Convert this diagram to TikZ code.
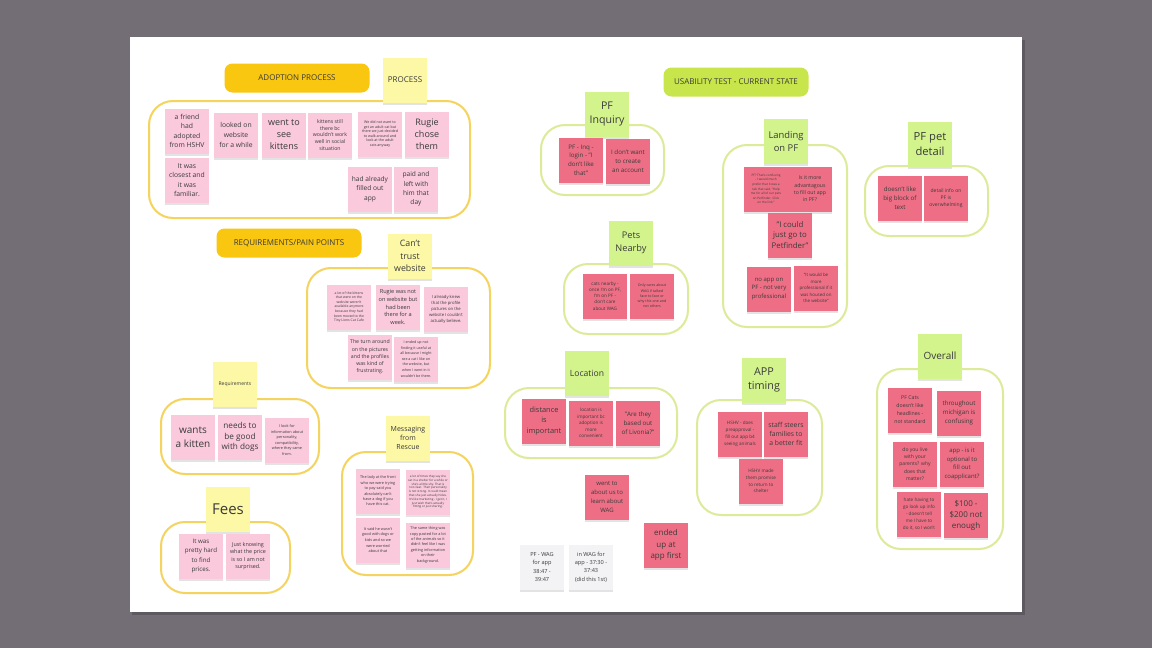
\documentclass[tikz,border=0pt]{standalone}
\usepackage{fontspec}
\setmainfont{Open Sans}
\usepackage{tikz}
\usetikzlibrary{
  positioning,
  shadows,
}
\definecolor{pagebg}{HTML}{736D75}
\definecolor{boardshade}{HTML}{5E5960}
\definecolor{ink}{HTML}{3A3A3A}
\definecolor{pinkpaper}{HTML}{FAC9DC}
\definecolor{redpaper}{HTML}{EE6F85}
\definecolor{yelpaper}{HTML}{FDF8A6}
\definecolor{greenpaper}{HTML}{D3F48D}
\definecolor{whitepaper}{HTML}{F3F3F5}
\definecolor{yelhead}{HTML}{FAC710}
\definecolor{limehead}{HTML}{C8E64B}
\definecolor{yelline}{HTML}{F4D35E}
\definecolor{limeline}{HTML}{DCEB99}
\tikzset{
  fs/.style 2 args={font=\fontsize{#1}{#2}\selectfont},
  sticky/.style={
    minimum width=22pt, minimum height=22.5pt, inner sep=0.4pt,
    align=center, text=ink,
    drop shadow={shadow xshift=0pt, shadow yshift=-1.3pt, opacity=0.22},
  },
  pinknote/.style={sticky, fill=pinkpaper},
  rednote/.style={sticky, fill=redpaper},
  yelnote/.style={sticky, fill=yelpaper},
  greennote/.style={sticky, fill=greenpaper},
  whitenote/.style={sticky, fill=whitepaper},
  header/.style={
    fill=#1, rounded corners=4pt, text=ink,
    minimum width=72.5pt, minimum height=14.5pt, inner sep=0pt,
    font=\fontsize{4pt}{5pt}\selectfont,
  },
  yelframe/.style={draw=yelline, line width=1pt, rounded corners=12pt},
  limeframe/.style={draw=limeline, line width=1pt, rounded corners=12pt},
}

\begin{document}
\begin{tikzpicture}[x=0.5pt,y=-0.5pt]
  \useasboundingbox (0,0) rectangle (1152,648);
  \fill[pagebg] (0,0) rectangle (1152,648);
  \fill[boardshade] (132,40) rectangle (1025,615);
  \fill[white] (130,37) rectangle (1022,612);

  % Adoption process
  \draw[yelframe] (149,101) rectangle (470,218);
  \node[header=yelhead] (adoptionhdr) at (297,78) {ADOPTION PROCESS};
  \node[yelnote, fs={4pt}{5pt}] (process) at (405,80) {PROCESS};
  \node[pinknote, fs={3.4pt}{4.7pt}] (friend) at (187,131) {a friend\\had\\adopted\\from HSHV};
  \node[pinknote, fs={3.4pt}{4.7pt}] (closest) at (187,180) {It was\\closest and\\it was\\familiar.};
  \node[pinknote, fs={3.4pt}{4.8pt}] (looked) at (236,135) {looked on\\website\\for a while};
  \node[pinknote, fs={4.5pt}{6pt}] (seekittens) at (284,135) {went to\\see\\kittens};
  \node[pinknote, fs={2.6pt}{3.4pt}] (social) at (330,135) {kittens still\\there bc\\wouldn't work\\well in social\\situation};
  \node[pinknote, fs={1.8pt}{2.3pt}] (adultcat) at (380,134) {We did not want to\\get an adult cat but\\there we just decided\\to walk around and\\look at the adult\\cats anyway};
  \node[pinknote, fs={4.5pt}{6pt}] (chose) at (427,134) {Rugie\\chose\\them};
  \node[pinknote, fs={3.3pt}{4.7pt}] (filled) at (370,189) {had already\\filled out\\app};
  \node[pinknote, fs={3.3pt}{4.7pt}] (paid) at (416,189) {paid and\\left with\\him that\\day};

  % Requirements / pain points
  \node[header=yelhead] (painhdr) at (289,243) {REQUIREMENTS/PAIN POINTS};
  \draw[yelframe] (307,268) rectangle (490,388);
  \node[yelnote, fs={4.4pt}{6.2pt}] (trust) at (410,256) {Can't\\trust\\website};
  \node[pinknote, fs={1.7pt}{2.3pt}] (catcafe) at (349,307) {a lot of the kittens\\that were on the\\website weren't\\available anymore\\because they had\\been moved to the\\Tiny Lions Cat Cafe};
  \node[pinknote, fs={2.8pt}{3.8pt}] (notonweb) at (398,307) {Rugie was not\\on website but\\had been\\there for a\\week.};
  \node[pinknote, fs={2.1pt}{3pt}] (believe) at (446,309) {I already knew\\that the profile\\pictures on the\\website I couldn't\\actually believe.};
  \node[pinknote, fs={2.6pt}{3.6pt}] (turnaround) at (370,357) {The turn around\\on the pictures\\and the profiles\\was kind of\\frustrating.};
  \node[pinknote, fs={1.8pt}{2.8pt}] (useful) at (416,359) {I ended up not\\finding it useful at\\all because I might\\see a cat I like on\\the website, but\\when I went in it\\wouldn't be there.};

  % Requirements
  \draw[yelframe] (161,399) rectangle (319,474);
  \node[yelnote, fs={2.5pt}{3pt}] (requirements) at (235,384) {Requirements};
  \node[pinknote, fs={5pt}{7pt}] (wantkitten) at (193,437) {wants\\a kitten};
  \node[pinknote, fs={4.1pt}{5.4pt}] (gooddogs) at (240,437) {needs to\\be good\\with dogs};
  \node[pinknote, fs={1.9pt}{2.8pt}] (personality) at (287,440) {I look for\\information about\\personality,\\compatibility,\\where they came\\from.};

  % Messaging from rescue
  \draw[yelframe] (342,452) rectangle (473,575);
  \node[yelnote, fs={3.5pt}{4.7pt}] (messaging) at (408,438) {Messaging\\from\\Rescue};
  \node[pinknote, fs={1.9pt}{2.7pt}] (lady) at (378,491) {The lady at the front\\who we were trying\\to pay said you\\absolutely can't\\have a dog if you\\have this cat.};
  \node[pinknote, fs={1.5pt}{1.9pt}] (marketing) at (428,492) {a lot of times they say she\\sat in a shelter for a while or\\she's a little shy. That is\\not clear. Their personality\\is not strong. It could mean\\that she just actually hides.\\It's like marketing - I get it, I\\just wish that's actually\\fitting or just sharing.};
  \node[pinknote, fs={1.9pt}{2.8pt}] (dogskids) at (378,540) {It said he wasn't\\good with dogs or\\kids and so we\\were worried\\about that};
  \node[pinknote, fs={1.9pt}{2.7pt}] (copypaste) at (428,545) {The same thing was\\copy pasted for a lot\\of the animals so it\\didn't feel like I was\\getting information\\on their\\background.};

  % Fees
  \draw[yelframe] (161,522) rectangle (290,593);
  \node[yelnote, fs={7.5pt}{9pt}] (fees) at (228,509) {Fees};
  \node[pinknote, fs={3.1pt}{4.6pt}] (prices) at (201,556) {It was\\pretty hard\\to find\\prices.};
  \node[pinknote, fs={2.7pt}{3.8pt}] (knowing) at (248,556) {Just knowing\\what the price\\is so I am not\\surprised.};

  % Usability test
  \node[header=limehead] (usabilityhdr) at (736,82) {USABILITY TEST - CURRENT STATE};

  % PF inquiry
  \draw[limeframe] (541,125) rectangle (664,195);
  \node[greennote, fs={5.3pt}{7.4pt}] (inquiry) at (607,114) {PF\\Inquiry};
  \node[rednote, fs={3.1pt}{4.3pt}] (login) at (581,160) {PF - Inq -\\login - "I\\don't like\\that"};
  \node[rednote, fs={3.1pt}{4.5pt}] (account) at (628,161) {I don't want\\to create\\an account};

  % Landing on PF
  \draw[limeframe] (723,145) rectangle (847,327);
  \node[greennote, fs={4.7pt}{6.5pt}] (landing) at (786,141) {Landing\\on PF};
  \node[rednote, fs={1.55pt}{2.3pt}] (confusing) at (766,189) {PF? That's confusing\\- I would much\\prefer that it was a\\tab that said, "Help\\me for all of our pets\\on Petfinder. Click\\on the link."};
  \node[rednote, fs={2.6pt}{3.7pt}] (advantage) at (810,189) {Is it more\\advantagous\\to fill out app\\in PF?};
  \node[rednote, fs={3.9pt}{5.1pt}] (justgo) at (790,235) {"I could\\just go to\\Petfinder"};
  \node[rednote, fs={3pt}{4.4pt}] (noapp) at (769,289) {no app on\\PF - not very\\professional};
  \node[rednote, fs={2.2pt}{3.3pt}] (housed) at (816,288) {"It would be\\more\\professional if it\\was housed on\\the website"};

  % PF pet detail
  \draw[limeframe] (865,166) rectangle (988,236);
  \node[greennote, fs={5.6pt}{7.3pt}] (petdetail) at (930,144) {PF pet\\detail};
  \node[rednote, fs={3.1pt}{4.6pt}] (bigblock) at (900,198) {doesn't like\\big block of\\text};
  \node[rednote, fs={2.5pt}{3.6pt}] (overwhelm) at (946,198) {detail info on\\PF is\\overwhelming};

  % Pets nearby
  \draw[limeframe] (564,264) rectangle (688,334);
  \node[greennote, fs={4.6pt}{6.6pt}] (nearby) at (631,243) {Pets\\Nearby};
  \node[rednote, fs={2.3pt}{3.1pt}] (catsnear) at (605,296) {cats nearby -\\once I'm on PF,\\I'm on PF -\\don't care\\about WAG};
  \node[rednote, fs={1.8pt}{2.6pt}] (facetoface) at (652,296) {Only cares about\\WAG if talked\\face to face or\\why this one and\\not others};

  % Location
  \draw[limeframe] (505,388) rectangle (677,458);
  \node[greennote, fs={4.3pt}{6pt}] (location) at (587,373) {Location};
  \node[rednote, fs={3.7pt}{5.1pt}] (distance) at (544,421) {distance\\is\\important};
  \node[rednote, fs={2.3pt}{3.3pt}] (convenient) at (591,423) {location is\\important bc\\adoption is\\more\\convenient};
  \node[rednote, fs={3.1pt}{4.4pt}] (livonia) at (638,423) {"Are they\\based out\\of Livonia?"};

  % App timing
  \draw[limeframe] (697,400) rectangle (822,515);
  \node[greennote, fs={5.4pt}{7pt}] (apptiming) at (764,380) {APP\\timing};
  \node[rednote, fs={2.3pt}{3.4pt}] (preapprove) at (740,434) {HSHV - does\\preapproval -\\fill out app b4\\seeing animals};
  \node[rednote, fs={3.4pt}{4.6pt}] (steers) at (786,434) {staff steers\\families to\\a better fit};
  \node[rednote, fs={2.3pt}{3.4pt}] (promise) at (761,481) {HSHV made\\them promise\\to return to\\shelter};

  % Overall
  \draw[limeframe] (877,369) rectangle (1003,549);
  \node[greennote, fs={5pt}{6pt}] (overall) at (940,356) {Overall};
  \node[rednote, fs={2.6pt}{4pt}] (headlines) at (910,410) {PF Cats\\doesn't like\\headlines -\\not standard};
  \node[rednote, fs={3.1pt}{4.5pt}] (michigan) at (959,413) {throughout\\michigan is\\confusing};
  \node[rednote, fs={2.5pt}{3.7pt}] (parents) at (915,464) {do you live\\with your\\parents? why\\does that\\matter?};
  \node[rednote, fs={3pt}{4.4pt}] (coapplicant) at (962,464) {app - is it\\optional to\\fill out\\coapplicant?};
  \node[rednote, fs={2.3pt}{3.5pt}] (lookup) at (919,514) {hate having to\\go look up info\\- doesn't tell\\me I have to\\do it, so I won't};
  \node[rednote, fs={4pt}{5.5pt}] (money) at (966,515) {\$100 -\\\$200 not\\enough};

  % Loose notes
  \node[rednote, fs={3pt}{4.5pt}] (aboutus) at (607,497) {went to\\about us to\\learn about\\WAG};
  \node[rednote, fs={4pt}{5.8pt}] (appfirst) at (666,545) {ended\\up at\\app first};
  \node[whitenote, fs={2.8pt}{4.2pt}] (pfwag) at (542,567) {PF - WAG\\for app\\38:47 -\\39:47};
  \node[whitenote, fs={2.8pt}{4.2pt}] (inwag) at (591,567) {in WAG for\\app - 37:30 -\\37:43\\(did this 1st)};
\end{tikzpicture}
\end{document}
